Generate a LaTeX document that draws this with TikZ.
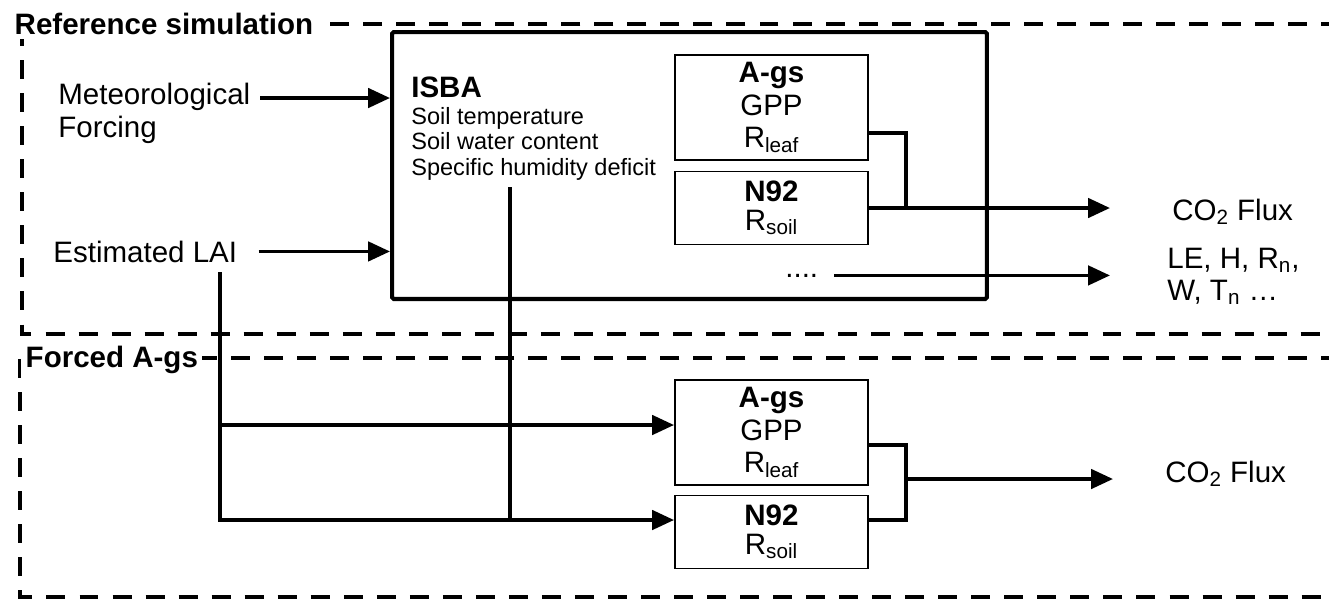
\documentclass[tikz,border=0pt]{standalone}
\usepackage{fontspec}
\setmainfont{Liberation Sans}
\usetikzlibrary{arrows.meta, positioning, calc}
\tikzset{
    grpline/.style={line width=2.4pt, dash pattern=on 10.8pt off 8pt},
    grplbl/.style={font=\fontsize{16.8}{18.7}\selectfont\bfseries, fill=white,
                   inner sep=2.5pt, anchor=base west},
    txt/.style={font=\fontsize{16.8}{18.7}\selectfont, inner sep=0pt},
    isbatxt/.style={font=\fontsize{13.4}{14.2}\selectfont, inner sep=0pt, anchor=base west},
    modbox/.style={rectangle, draw, line width=1.1pt, minimum width=3.86cm,
                   align=center, inner sep=0pt, font=\fontsize{16.8}{18.4}\selectfont},
    agsbox/.style={modbox, minimum height=2.1cm},
    n92box/.style={modbox, minimum height=1.46cm, font=\fontsize{16.8}{16.5}\selectfont},
    arrow/.style={-{Triangle[length=12.5pt, width=11pt]}, line width=2.1pt},
    conn/.style={line width=2.3pt},
}
\begin{document}
\begin{tikzpicture}[x=0.02cm, y=-0.02cm]
    \useasboundingbox (0,0) rectangle (1329,600);
    % simulation frames
    \draw[grpline] (1340,24) -- (22,24) -- (22,334) -- (1340,334);
    \draw[grpline] (1340,358) -- (20,358) -- (20,597) -- (1340,597);
    \node[grplbl] (refsim) at (10,34) {Reference simulation};
    \node[grplbl] (forced) at (21,367) {Forced A-gs};
    % ISBA model
    \node[draw, line width=2.3pt, rounded corners=1pt, minimum width=11.9cm,
          minimum height=5.34cm] (isba) at (689.5,165.5) {};
    \node[txt, anchor=base west, font=\fontsize{16.8}{18.7}\selectfont\bfseries]
        (isbahead) at (411,97) {ISBA};
    \node[isbatxt] (soilt) at (411,124) {Soil temperature};
    \node[isbatxt] (soilw) at (411,149) {Soil water content};
    \node[isbatxt] (shd) at (411,175) {Specific humidity deficit};
    \node[agsbox] (agsA) at (771.5,107.5) {\textbf{A-gs}\\GPP\\R\textsubscript{leaf}};
    \node[n92box] (n92A) at (771.5,208) {\textbf{N92}\\R\textsubscript{soil}};
    % forced modules
    \node[agsbox] (agsB) at (771.5,432.5) {\textbf{A-gs}\\GPP\\R\textsubscript{leaf}};
    \node[n92box] (n92B) at (771.5,532) {\textbf{N92}\\R\textsubscript{soil}};
    % inputs
    \node[txt, anchor=north west, align=left] (met) at (58,83) {Meteorological\\Forcing};
    \node[txt, anchor=base west] (lai) at (53,262) {Estimated LAI};
    \coordinate (metout) at (260,98);
    \draw[arrow] (metout) -- (metout -| isba.west);
    \draw[arrow] ([xshift=12pt]lai.east) -- (lai.east -| isba.west);
    % outputs of the reference run
    \coordinate (jA) at (906,208);
    \coordinate (tipA) at (1110,208);
    \draw[conn] ($(agsA.east)+(0,25.5)$) -| (jA);
    \draw[arrow] (n92A.east) -- (tipA);
    \node[txt, anchor=base west] (co2A) at (1172,220) {CO\textsubscript{2} Flux};
    \node[txt, anchor=base west] (dots) at (785,277) {....};
    \draw[arrow] ([xshift=9pt]dots.east) -- (dots.east -| tipA);
    \node[txt, anchor=base west] (leA) at (1167,268) {LE, H, R\textsubscript{n},};
    \node[txt, anchor=base west] (wtA) at (1167,300) {W, T\textsubscript{n} …};
    % forcing of the offline A-gs
    \coordinate (laidown) at (220,272);
    \coordinate (humdown) at (510,187);
    \coordinate (inB1) at ($(agsB.west)+(0,-7.5)$);
    \coordinate (inB2) at ($(n92B.west)+(0,-12)$);
    \draw[arrow] (laidown) |- (inB2);
    \draw[arrow] (laidown |- inB1) -- (inB1);
    \draw[line width=1.9pt] (humdown) -- (humdown |- inB2);
    % outputs of the forced run
    \coordinate (jB) at (906,520);
    \coordinate (tipB) at (1113,479);
    \draw[conn] ($(agsB.east)+(0,12.5)$) -| (jB) -- ($(n92B.east)+(0,-12)$);
    \draw[arrow] (jB |- tipB) -- (tipB);
    \node[txt, anchor=base west] (co2B) at (1165,482) {CO\textsubscript{2} Flux};
\end{tikzpicture}
\end{document}
